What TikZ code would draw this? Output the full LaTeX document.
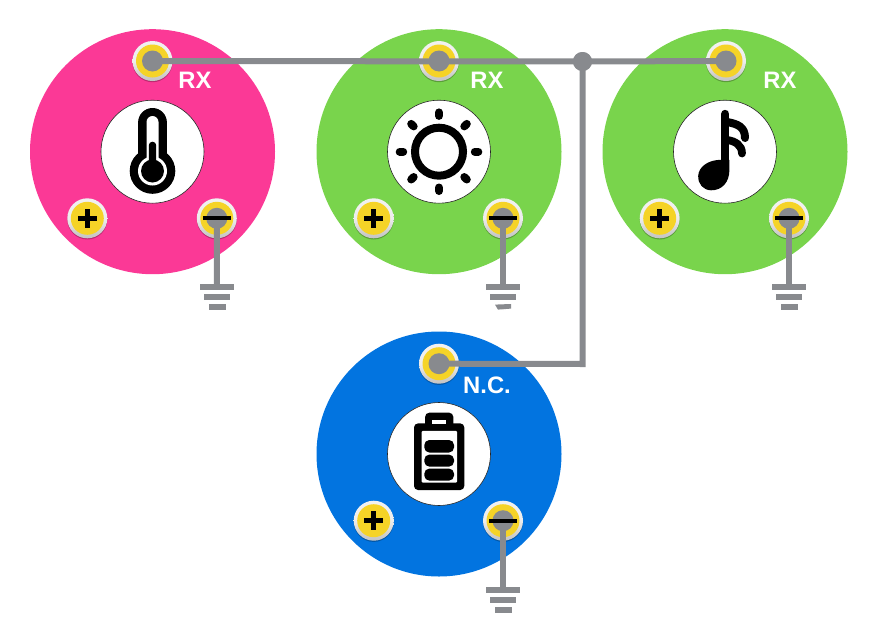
\documentclass[tikz,border=0pt]{standalone}
\usepackage{fontspec}
\setmainfont{Liberation Sans}
\usetikzlibrary{shadows}
\definecolor{pinkc}{HTML}{FB3996}
\definecolor{greenc}{HTML}{79D44C}
\definecolor{bluec}{HTML}{0274E0}
\definecolor{goldc}{HTML}{F5D327}
\definecolor{wirec}{HTML}{888A8E}
\pgfdeclareverticalshading{padrim}{100bp}{
  color(0bp)=(black!35);
  color(32bp)=(black!20);
  color(50bp)=(black!7);
  color(100bp)=(black!4)}
\tikzset{
  disc/.style={circle,minimum size=245pt,inner sep=0pt,outer sep=0pt},
  hole/.style={circle,fill=white,draw=black!85,line width=.6pt,minimum size=103pt,inner sep=0pt,outer sep=0pt},
  padring/.style={circle,minimum size=40pt,inner sep=0pt,outer sep=0pt,shading=padrim,
    drop shadow={shadow xshift=0pt,shadow yshift=-1.2pt,opacity=.25,fill=black}},
  padgold/.style={circle,fill=goldc,minimum size=33pt,inner sep=0pt,outer sep=0pt},
  padcore/.style={circle,fill=wirec,minimum size=21pt,inner sep=0pt,outer sep=0pt},
  junction/.style={circle,fill=wirec,minimum size=19pt,inner sep=0pt,outer sep=0pt},
  wire/.style={draw=wirec,line width=6pt},
  barnode/.style={rectangle,fill=wirec,minimum height=6pt,inner sep=0pt,outer sep=0pt},
  pinlabel/.style={text=white,font=\bfseries\fontsize{23.8}{24}\selectfont,inner sep=0pt},
  ink/.style={fill=black},
}
\newcommand{\padat}[3]{%
  \node[padring] (#1) at (#2,#3) {};
  \node[padgold] (#1g) at (#2,#3) {};
}
\newcommand{\plusat}[1]{%
  \fill[ink] ([xshift=-9.7pt,yshift=-2.4pt]#1.center) rectangle ([xshift=9.7pt,yshift=2.4pt]#1.center);
  \fill[ink] ([xshift=-2.4pt,yshift=-9.7pt]#1.center) rectangle ([xshift=2.4pt,yshift=9.7pt]#1.center);
}
\newcommand{\minusat}[1]{%
  \fill[ink] ([xshift=-14pt,yshift=-2.1pt]#1.center) rectangle ([xshift=14pt,yshift=2.1pt]#1.center);
}
\newcommand{\groundbars}[4]{%
  \node[barnode,minimum width=34pt] (#1a) at (#2,#3) {};
  \node[barnode,minimum width=25.5pt] (#1b) at (#2,#3+10) {};
  \node[barnode,minimum width=#4pt] (#1c) at (#2,#3+20.3) {};
}
\begin{document}
\begin{tikzpicture}[x=1pt,y=-1pt]
\useasboundingbox (0,0) rectangle (884,635);
% discs
\node[disc,fill=pinkc] (d1) at (152.5,151.7) {};
\node[disc,fill=greenc] (d2) at (439,151.7) {};
\node[disc,fill=greenc] (d3) at (725,151.7) {};
\node[disc,fill=bluec] (d4) at (439,454) {};
\node[hole] (h1) at (d1) {};
\node[hole] (h2) at (d2) {};
\node[hole] (h3) at (d3) {};
\node[hole] (h4) at (d4) {};
% pads
\padat{t1}{152.5}{61}
\padat{p1}{87.3}{218.3}
\padat{m1}{216.8}{218.3}
\padat{t2}{439}{61}
\padat{p2}{373.7}{218.3}
\padat{m2}{503}{218.3}
\padat{t3}{726}{61}
\padat{p3}{659.7}{218.3}
\padat{m3}{789}{218.3}
\padat{t4}{439}{363.7}
\padat{p4}{373.7}{520.7}
\padat{m4}{503}{520.7}
% labels
\node[pinlabel] (l1) at (195,80.5) {RX};
\node[pinlabel] (l2) at (487,80.5) {RX};
\node[pinlabel] (l3) at (780,80.5) {RX};
\node[pinlabel] (l4) at (487,385) {N.C.};
% grounds
\groundbars{g1}{217}{286.7}{17}
\groundbars{g2}{503}{286.7}{0}
\groundbars{g3}{789}{286.7}{17}
\groundbars{g4}{503}{590}{17}
\fill[wirec] (495,304.6) -- (511,304) -- (511,308.6) -- (498,309.6) -- cycle;
% wires
\node[junction] (jn) at (582.5,61.5) {};
\coordinate (corner) at (582.5,364);
\draw[wire] (t1.center) -- (jn.center) -- (t3.center);
\draw[wire] (jn.center) -- (corner) -- (t4.center);
\draw[wire] (m1.center) -- (g1a.center);
\draw[wire] (m2.center) -- (g2a.center);
\draw[wire] (m3.center) -- (g3a.center);
\draw[wire] (m4.center) -- (g4a.center);
\foreach \n in {t1,t2,t3,t4,m1,m2,m3,m4}{
  \node[padcore] (\n c) at (\n) {};
}
\node[junction] (jn2) at (jn) {};
\plusat{p1}\plusat{p2}\plusat{p3}\plusat{p4}
\minusat{m1}\minusat{m2}\minusat{m3}\minusat{m4}
% thermometer
\fill[ink,rounded corners=14.4pt] (138.1,108) rectangle (166.9,170);
\fill[ink] (152.5,171) circle[radius=22.8pt];
\fill[white,rounded corners=6pt] (146.5,116) rectangle (158.5,168);
\fill[white] (152.5,171) circle[radius=14.5pt];
\fill[ink] (152.5,171) circle[radius=11.5pt];
\fill[ink,rounded corners=3.6pt] (148.8,141.7) rectangle (156.2,170);
% sun
\draw[black,line width=8pt] (439,151.7) circle[radius=24pt];
\begin{scope}[shift={(439,151.7)}]
\foreach \a in {0,45,...,315}{
  \draw[black,line width=8pt,line cap=round] (\a:35.8pt) -- (\a:39.3pt);
}
\end{scope}
% note
\draw[black,line width=8.4pt,line cap=round] (725.2,114) -- (725.2,172);
\fill[ink] (729.4,170) .. controls (729.5,182) and (722,190.5) .. (711,190.3)
  .. controls (703,190) and (698,184) .. (698.2,176)
  .. controls (698.5,167) and (708,159.5) .. (722,159.8) -- (729.4,160) -- cycle;
\draw[black,line width=8pt,line cap=round] (727,122) .. controls (738,124) and (745,127) .. (745,138);
\draw[black,line width=7.8pt,line cap=round] (727,140) .. controls (735,141) and (742,145) .. (742,153.5);
% battery
\fill[ink,rounded corners=4.5pt] (425,412.6) rectangle (453.4,432);
\fill[ink,rounded corners=4pt] (414,423.4) rectangle (464.3,490);
\fill[white] (432.3,420) rectangle (445.7,424);
\fill[white,rounded corners=1pt] (421.7,430.8) rectangle (457,482.6);
\fill[ink,rounded corners=5pt] (424.3,440) rectangle (454,452.5);
\fill[ink,rounded corners=5pt] (424.3,454.6) rectangle (454,466.6);
\fill[ink,rounded corners=5pt] (424.3,468.6) rectangle (454,480.6);
\end{tikzpicture}
\end{document}
